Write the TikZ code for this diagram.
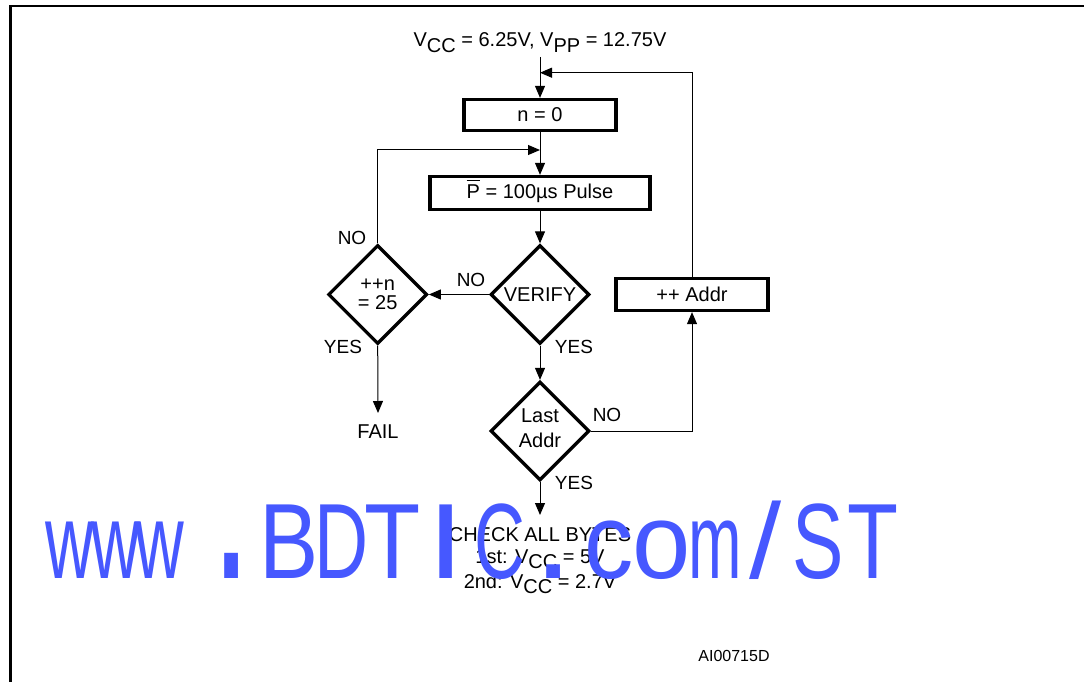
\documentclass[tikz,border=0pt]{standalone}
\usepackage{fontspec}
\setmainfont{Liberation Sans}
\usepackage{graphicx}
\usetikzlibrary{shapes.geometric,arrows.meta}
\definecolor{wm}{RGB}{70,88,255}
\newcommand\sbs[1]{\raisebox{-5.5pt}{#1}}
\newcommand\wmslash{/}
\begin{document}
\begin{tikzpicture}[x=1pt,y=-1pt,
  font=\fontsize{20}{24}\selectfont,
  boxnode/.style={draw,line width=3.3pt,rectangle,inner sep=0pt},
  decision/.style={draw,line width=3.3pt,diamond,aspect=1,minimum width=99pt,minimum height=99pt,inner sep=0pt,align=center},
  lbl/.style={inner sep=0pt,font=\fontsize{19}{22}\selectfont},
  conn/.style={line width=1pt,-{Triangle[length=12pt,width=10pt]}},
  wmtext/.style={anchor=base,inner sep=0pt,text=wm,font=\fontsize{107}{107}\selectfont}]
\useasboundingbox (0,0) rectangle (1084,682);
\draw[line width=2.5pt] (10.5,682) -- (10.5,6) -- (1084,6);

\node[anchor=base,inner sep=0pt] (title) at (540,46.7) {V\sbs{CC} = 6.25V, V\sbs{PP} = 12.75V};
\coordinate (start) at (540,57);
\coordinate (j1) at (540,72.7);
\coordinate (j2) at (540,150);
\node[boxnode,minimum width=152pt,minimum height=31pt] (n0) at (540,115) {n = 0};
\node[boxnode,minimum width=220pt,minimum height=33pt] (pulse) at (540,193) {\smash{\vbox{\hrule height 1pt\kern3pt\hbox{P}}} = 100µs Pulse};
\node[decision] (verify) at (540,294.5) {VERIFY};
\node[decision,font=\fontsize{20}{19}\selectfont] (inc) at (377.7,294.5) {++n\\= 25};
\node[decision,font=\fontsize{20}{25}\selectfont,text depth=6pt] (last) at (540,431) {Last\\Addr};
\node[boxnode,minimum width=152pt,minimum height=32pt] (addr) at (692,294.5) {++ Addr};
\node[anchor=north,inner xsep=0pt,inner ysep=12pt] (fail) at (378,413) {FAIL};
\node[anchor=north,inner xsep=0pt,inner ysep=12pt] (check) at (540,515) {CHECK ALL BYTES};
\node[anchor=base,inner sep=0pt] (check1) at (540,563) {1st: V\sbs{CC} = 5V};
\node[anchor=base,inner sep=0pt] (check2) at (540,588) {2nd: V\sbs{CC} = 2.7V};

\node[lbl] (noInc) at (352,238) {NO};
\node[lbl] (noVer) at (471,279.5) {NO};
\node[lbl] (yesInc) at (343,347) {YES};
\node[lbl] (yesVer) at (574,347) {YES};
\node[lbl] (noLast) at (607,414.5) {NO};
\node[lbl] (yesLast) at (574,483) {YES};
\node[font=\fontsize{16}{18}\selectfont,inner sep=0pt] (ref) at (734,656) {AI00715D};

\draw[conn] (start) -- (n0.north);
\draw[conn] (addr.north) |- (j1);
\draw[conn] (n0.south) -- (pulse.north);
\draw[conn] (inc.north) |- (j2);
\draw[conn] (pulse.south) -- (verify.north);
\draw[conn] (verify.west) -- (inc.east);
\draw[conn] (inc.south) -- (fail.north);
\draw[conn] (verify.south) -- (last.north);
\draw[conn] (last.east) -| (addr.south);
\draw[conn] (last.south) -- (check.north);

\foreach \c/\x/\s/\t in {w/70/0.63/1, w/116/0.63/1, w/160/0.63/1, ./231.5/1.35/2.2,
  B/289/0.83/1, D/341.5/0.7/1, T/392.5/0.86/1, I/446/1.25/1, C/500/0.66/1, ./553.5/1.35/1.2,
  c/609/0.92/1, o/662/0.98/1, m/715/0.6/1, \wmslash/766/1.08/1, S/818/0.72/1, T/873/0.78/1}
  \node[wmtext] (wm-\x) at (\x,578) {\scalebox{\s}[\t]{\c}};
\end{tikzpicture}
\end{document}
